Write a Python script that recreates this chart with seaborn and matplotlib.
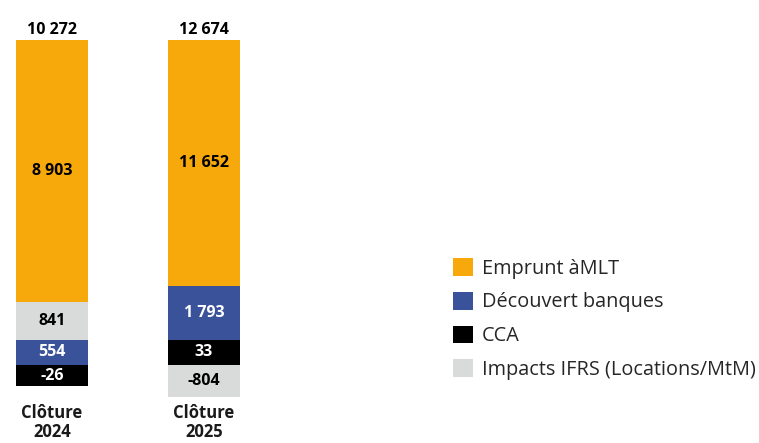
import matplotlib
matplotlib.use("Agg")
import matplotlib.pyplot as plt
from matplotlib.patches import Patch
import seaborn as sns

sns.set_theme(style="white")
plt.rcParams["font.family"] = ["Open Sans", "DejaVu Sans"]

# categories and values (labels shown on the chart)
periods = ["Clôture\n2024", "Clôture\n2025"]
series = ["Emprunt àMLT", "Découvert banques", "CCA", "Impacts IFRS (Locations/MtM)"]
colors = {"Emprunt àMLT": "#F7A80B", "Découvert banques": "#3A5299",
          "CCA": "#000000", "Impacts IFRS (Locations/MtM)": "#D9DADA"}
text_col = {"Emprunt àMLT": "black", "Découvert banques": "white",
            "CCA": "white", "Impacts IFRS (Locations/MtM)": "black"}

# stacking order from bottom, per bar
order_2024 = ["CCA", "Découvert banques", "Impacts IFRS (Locations/MtM)", "Emprunt àMLT"]
values_2024 = [-26, 554, 841, 8903]
order_2025 = ["Impacts IFRS (Locations/MtM)", "CCA", "Découvert banques", "Emprunt àMLT"]
values_2025 = [-804, 33, 1793, 11652]
totals = [10272, 12674]

# the source chart is schematic (not to scale): segment lengths as drawn
drawn_2024 = [-21, 25, 38, 262]
drawn_2025 = [-32, 25, 54, 246]


def fmt(v):
    return f"{v:,}".replace(",", " ")


fig = plt.figure(figsize=(7.59, 4.43), dpi=100)
ax = fig.add_axes([0, 0, 1, 1])

bars = [(order_2024, values_2024, drawn_2024), (order_2025, values_2025, drawn_2025)]
for i, (order, vals, drawn) in enumerate(bars):
    pos, neg = 0, 0
    for name, v, h in zip(order, vals, drawn):
        if h >= 0:
            base = pos
            pos += h
        else:
            base = neg
            neg += h
        sns.barplot(x=[periods[i]], y=[h], bottom=base, order=periods,
                    color=colors[name], saturation=1, width=0.474,
                    linewidth=0, ax=ax)
        ax.text(i, base + h / 2, fmt(v), ha="center", va="center",
                fontsize=11.5, fontweight="bold", color=text_col[name])
    ax.text(i, pos + 10, fmt(totals[i]), ha="center", va="center",
            fontsize=11.5, fontweight="bold", color="black")
    ax.text(i, -39, periods[i], ha="center", va="top", fontsize=12,
            fontweight="bold", color="#1a1a1a", linespacing=1.05)

ax.set_xlim(-52 / 152, (759 - 52) / 152)
ax.set_ylim(365 - 443, 365)
ax.axis("off")

handles = [Patch(facecolor=colors[s], edgecolor="none", label=s) for s in series]
fig.legend(handles=handles, loc="upper left", bbox_to_anchor=(453 / 759, 1 - 258 / 443),
           frameon=False, fontsize=14.3, handlelength=1.0, handleheight=1.0,
           handletextpad=0.45, labelspacing=0.66, borderaxespad=0, borderpad=0)

fig.savefig("out.png", dpi=100)
